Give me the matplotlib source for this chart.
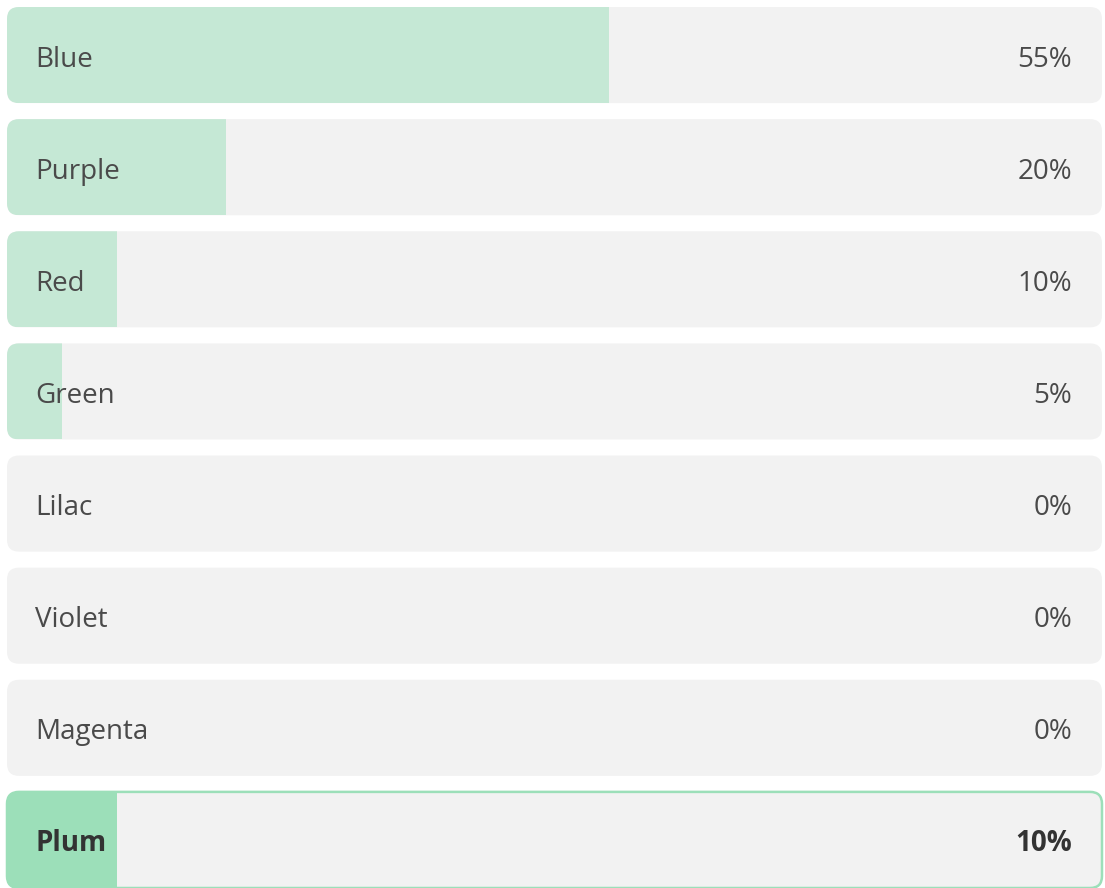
import matplotlib.pyplot as plt
from matplotlib.patches import FancyBboxPatch, Rectangle

labels = ['Blue', 'Purple', 'Red', 'Green', 'Lilac', 'Violet', 'Magenta', 'Plum']
values = [55, 20, 10, 5, 0, 0, 0, 10]
highlight = 'Plum'

bg_color = '#f2f2f2'
fill_color = '#c5e8d5'
hl_color = '#9cdfb9'
text_color = '#4a4a4a'

W, H = 1105, 888
fig = plt.figure(figsize=(W / 100, H / 100), dpi=100)
# 0..100 percent spans the bar width; one row per unit on y
ax = fig.add_axes([7 / W, 0, 1095 / W, 1])
n = len(labels)
ax.set_xlim(0, 100)
ax.set_ylim(n - 1 + 48 / 112, -55 / 112)
ax.axis('off')

px_x = 100 / 1095  # x units per pixel
px_y = 1 / 112     # y units per pixel
aspect = px_y / px_x
bar_h = 96 * px_y
radius = 12 * px_x
style = f'round,pad=0,rounding_size={radius}'

for i, (lab, val) in enumerate(zip(labels, values)):
    hl = lab == highlight
    box = FancyBboxPatch((0, i - bar_h / 2), 100, bar_h, boxstyle=style,
                         mutation_aspect=aspect, facecolor=bg_color,
                         edgecolor='none', zorder=1)
    ax.add_patch(box)
    if val > 0:
        fill = Rectangle((0, i - bar_h / 2), val, bar_h,
                         facecolor=hl_color if hl else fill_color,
                         edgecolor='none', zorder=2)
        ax.add_patch(fill)
        fill.set_clip_path(box)
    if hl:
        ax.add_patch(FancyBboxPatch((0, i - bar_h / 2), 100, bar_h, boxstyle=style,
                                    mutation_aspect=aspect, facecolor='none',
                                    edgecolor=hl_color, linewidth=1.8,
                                    zorder=3, clip_on=False))
    weight = 'bold' if hl else 'normal'
    color = '#333333' if hl else text_color
    base = i + 11.5 * px_y
    ax.text(28 * px_x, base, lab, ha='left', va='baseline', fontsize=20,
            family='Open Sans', color=color, fontweight=weight, zorder=4)
    ax.text(100 - 30 * px_x, base, f'{val}%', ha='right', va='baseline', fontsize=20,
            family='Open Sans', color=color, fontweight=weight, zorder=4)

fig.savefig('out.png', dpi=100)
